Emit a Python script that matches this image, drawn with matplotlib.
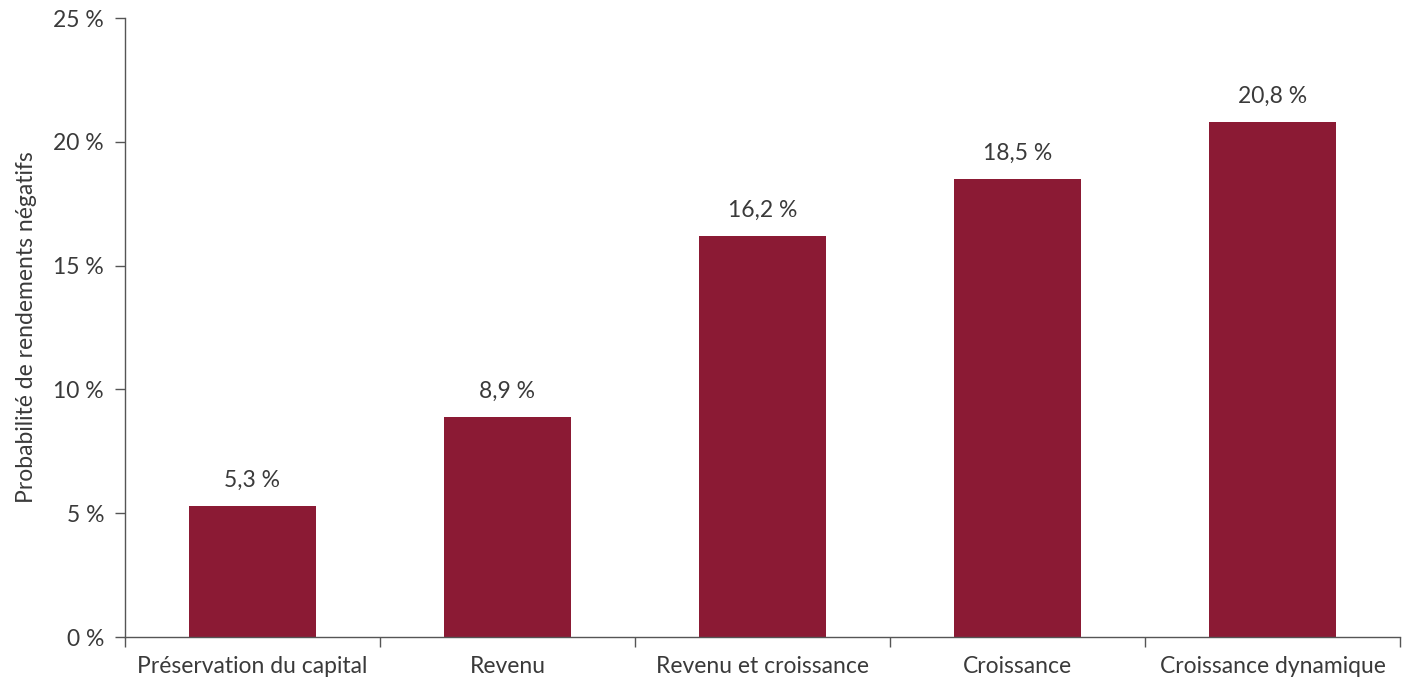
import numpy as np
import matplotlib
matplotlib.use("Agg")
import matplotlib.pyplot as plt

categories = ["Préservation du capital", "Revenu", "Revenu et croissance",
              "Croissance", "Croissance dynamique"]
values = [5.3, 8.9, 16.2, 18.5, 20.8]
yticks = [0, 5, 10, 15, 20, 25]

plt.rcParams["font.family"] = ["Lato", "DejaVu Sans"]
text_color = "#3a3a3a"
bar_color = "#8b1a34"
fs = 16.5

fig = plt.figure(figsize=(14.07, 6.8), dpi=100)
ax = fig.add_axes([0.0888, 0.0632, 0.9062, 0.9103])

x = np.arange(len(categories))
ax.bar(x, values, width=0.5, color=bar_color, zorder=2)

for xi, v in zip(x, values):
    ax.text(xi, v + 0.6, f"{v:.1f} %".replace(".", ","), ha="center", va="bottom",
            fontsize=fs, color=text_color)

ax.set_xlim(-0.5, len(categories) - 0.5)
ax.set_ylim(0, 25)
ax.set_yticks(yticks)
ax.set_yticklabels([f"{t} %" for t in yticks])
ax.set_xticks(x)
ax.set_xticklabels(categories)
ax.set_xticks(np.arange(-0.5, len(categories)), minor=True)
ax.tick_params(axis="x", which="major", length=0, pad=14, labelsize=fs, colors=text_color)
ax.tick_params(axis="x", which="minor", length=7, width=1, color="#555555")
ax.tick_params(axis="y", length=7, width=1, color="#555555", labelsize=fs,
               labelcolor=text_color, pad=8)

for s in ["top", "right"]:
    ax.spines[s].set_visible(False)
for s in ["left", "bottom"]:
    ax.spines[s].set_color("#555555")
    ax.spines[s].set_linewidth(1)

ax.set_ylabel("Probabilité de rendements négatifs", fontsize=fs, color=text_color, labelpad=12)

fig.savefig("out.png", dpi=100)
